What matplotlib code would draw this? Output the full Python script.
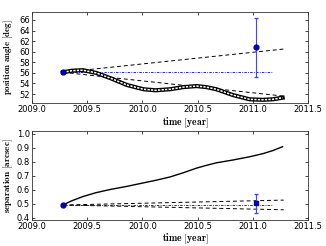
import numpy as np
import matplotlib
matplotlib.use('Agg')
from matplotlib import pyplot as plt

plt.rcParams['mathtext.fontset'] = 'cm'
plt.rcParams['xtick.direction'] = 'in'
plt.rcParams['ytick.direction'] = 'in'
plt.rcParams['xtick.top'] = True
plt.rcParams['ytick.right'] = True

# first and second epoch
t0 = 2009.28
t1 = 2011.03
pa0 = 56.1
sep0 = 0.492
pa1, pa1_err = 60.8, 5.6
sep1, sep1_err = 0.503, 0.067

# background track (position angle)
track_t = [2009.28, 2009.36, 2009.46, 2009.58, 2009.71, 2009.86, 2010.01, 2010.12,
           2010.25, 2010.37, 2010.49, 2010.58, 2010.67, 2010.82, 2010.97, 2011.09, 2011.18, 2011.27]
track_pa = [56.1, 56.4, 56.5, 56.0, 55.0, 53.7, 52.9, 52.7, 52.9, 53.3, 53.5, 53.3, 52.9,
            51.8, 51.0, 50.9, 51.0, 51.3]

# background track (separation)
track_sep = [0.492, 0.522, 0.552, 0.580, 0.603, 0.625, 0.650, 0.668, 0.692, 0.722, 0.755,
             0.775, 0.793, 0.813, 0.836, 0.858, 0.880, 0.908]

# uncertainty envelope (dashed)
env_t = [2009.28, 2011.28]
env_pa_hi = [56.1, 60.5]
env_pa_lo = [56.1, 51.6]
env_sep_hi = [0.492, 0.527]
env_sep_lo = [0.492, 0.458]

# co-moving reference (dash-dot)
stat_t = [2009.28, 2011.17]

fig = plt.figure(figsize=(3.26, 2.46), dpi=100)
ax1 = fig.add_axes([32/326, 1-103/246, 276/326, 91/246])
ax2 = fig.add_axes([32/326, 1-220/246, 276/326, 89/246])

# top panel
ax1.plot(env_t, env_pa_hi, 'k--', lw=0.7, dashes=(4, 3))
ax1.plot(env_t, env_pa_lo, 'k--', lw=0.7, dashes=(4, 3))
ax1.plot(stat_t, [pa0, pa0], color='b', lw=0.6, dashes=(3, 1.5, 1, 1.5))
ax1.plot(track_t, track_pa, 'k-', lw=3.0)
ax1.plot(track_t, track_pa, 'w-', lw=1.1, dashes=(1.5, 0.8))
ax1.plot([t0], [pa0], 'o', color='#0000aa', ms=3.5)
ax1.errorbar([t1], [pa1], yerr=[pa1_err], fmt='o', color='#0000cc', ecolor='#4444ff',
             ms=3.5, lw=0.8, capsize=1.5)
ax1.set_xlim(2009.0, 2011.5)
ax1.set_ylim(50.3, 67.5)
ax1.set_yticks([52, 54, 56, 58, 60, 62, 64, 66])
ax1.set_xticks([2009.0, 2009.5, 2010.0, 2010.5, 2011.0, 2011.5])
ax1.set_ylabel(r'$\mathbf{position\ angle\ [deg]}$', fontsize=6.4)
ax1.set_xlabel(r'$\mathbf{time\ [year]}$', fontsize=7)
ax1.xaxis.set_label_coords(0.555, -0.135)

# bottom panel
ax2.plot(env_t, env_sep_hi, 'k--', lw=0.7, dashes=(4, 3))
ax2.plot(env_t, env_sep_lo, 'k--', lw=0.7, dashes=(4, 3))
ax2.plot(stat_t, [sep0, sep0], color='b', lw=0.6, dashes=(3, 1.5, 1, 1.5))
ax2.plot(track_t, track_sep, 'k-', lw=1.0)
ax2.plot([t0], [sep0], 'o', color='#0000aa', ms=3.5)
ax2.errorbar([t1], [sep1], yerr=[sep1_err], fmt='s', color='#0000cc', ecolor='#4444ff',
             ms=3, lw=0.8, capsize=1.5)
ax2.set_xlim(2009.0, 2011.5)
ax2.set_ylim(0.385, 1.02)
ax2.set_yticks([0.4, 0.5, 0.6, 0.7, 0.8, 0.9, 1.0])
ax2.set_xticks([2009.0, 2009.5, 2010.0, 2010.5, 2011.0, 2011.5])
ax2.set_ylabel(r'$\mathbf{separation\ [arcsec]}$', fontsize=6.6)
ax2.set_xlabel(r'$\mathbf{time\ [year]}$', fontsize=7)
ax2.xaxis.set_label_coords(0.555, -0.135)

for ax in (ax1, ax2):
    ax.tick_params(labelsize=6, length=2.5, width=0.5, pad=1.5)
    ax.yaxis.set_label_coords(-0.062, 0.5)
    for s in ax.spines.values():
        s.set_linewidth(0.6)
        s.set_color('#333333')

fig.savefig('out.png', dpi=100)
